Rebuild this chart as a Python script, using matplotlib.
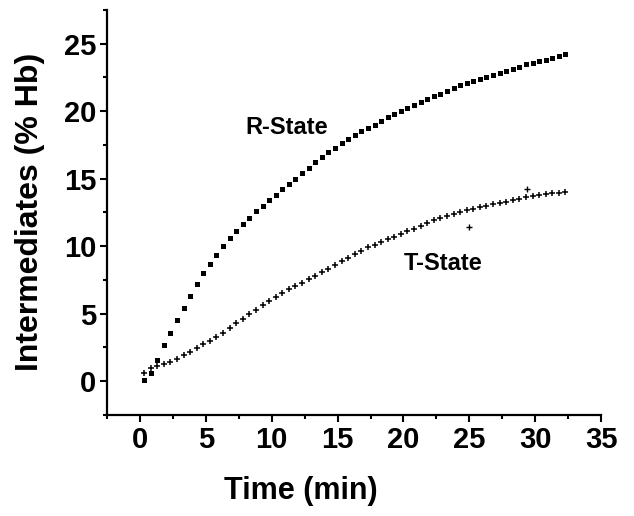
import matplotlib
matplotlib.use('agg')
import matplotlib.pyplot as plt
from matplotlib.ticker import MultipleLocator

# sampling times (min)
time = [0.3, 0.8, 1.3, 1.8, 2.3, 2.8, 3.3, 3.8, 4.3, 4.8,
        5.3, 5.8, 6.3, 6.8, 7.3, 7.8, 8.3, 8.8, 9.3, 9.8,
        10.3, 10.8, 11.3, 11.8, 12.3, 12.8, 13.3, 13.8, 14.3, 14.8,
        15.3, 15.8, 16.3, 16.8, 17.3, 17.8, 18.3, 18.8, 19.3, 19.8,
        20.3, 20.8, 21.3, 21.8, 22.3, 22.8, 23.3, 23.8, 24.3, 24.8,
        25.3, 25.8, 26.3, 26.8, 27.3, 27.8, 28.3, 28.8, 29.3, 29.8,
        30.3, 30.8, 31.3, 31.8, 32.3]

# R-state intermediates (% Hb)
r_state = [0.1, 0.6, 1.6, 2.7, 3.6, 4.5, 5.4, 6.3, 7.2, 8.0,
           8.7, 9.35, 10.0, 10.6, 11.1, 11.6, 12.05, 12.6, 13.0, 13.4,
           13.8, 14.2, 14.6, 15.0, 15.4, 15.8, 16.2, 16.6, 17.0, 17.3,
           17.6, 17.9, 18.2, 18.5, 18.75, 19.0, 19.3, 19.55, 19.8, 20.0,
           20.25, 20.45, 20.7, 20.9, 21.1, 21.3, 21.5, 21.7, 21.9, 22.05,
           22.2, 22.4, 22.55, 22.7, 22.85, 23.0, 23.15, 23.3, 23.45, 23.55,
           23.7, 23.8, 23.95, 24.05, 24.2]

# T-state intermediates (% Hb)
t_state = [0.6, 1.0, 1.1, 1.25, 1.45, 1.65, 1.9, 2.15, 2.45, 2.75,
           3.0, 3.3, 3.6, 3.95, 4.3, 4.6, 4.95, 5.3, 5.6, 5.9,
           6.2, 6.5, 6.8, 7.05, 7.3, 7.55, 7.8, 8.05, 8.3, 8.6,
           8.9, 9.15, 9.4, 9.65, 9.9, 10.1, 10.3, 10.5, 10.7, 10.9,
           11.1, 11.3, 11.5, 11.7, 11.9, 12.05, 12.2, 12.4, 12.55, 12.65,
           12.75, 12.9, 13.0, 13.1, 13.2, 13.3, 13.4, 13.5, 13.6, 13.7,
           13.75, 13.85, 13.9, 13.95, 14.0]

# stray T-state points
t_out_time = [25.0, 29.4]
t_out_val = [11.4, 14.2]

xticks = [0, 5, 10, 15, 20, 25, 30, 35]
yticks = [0, 5, 10, 15, 20, 25]

plt.rcParams['font.family'] = ['Liberation Sans', 'DejaVu Sans']
plt.rcParams['font.weight'] = 'bold'

fig = plt.figure(figsize=(6.34, 5.16), dpi=100)
ax = fig.add_axes([0.169, 0.196, 0.779, 0.785])

ax.plot(time, r_state, linestyle='none', marker='s', markersize=3.6,
        color='black', markeredgewidth=0)
ax.plot(time, t_state, linestyle='none', marker='+', markersize=4.5,
        color='black', markeredgewidth=1.1)
ax.plot(t_out_time, t_out_val, linestyle='none', marker='+', markersize=4,
        color='black', markeredgewidth=1.0)

ax.text(11.1, 18.8, "R-State", fontsize=17, fontweight='bold', ha='center', va='center')
ax.text(23.0, 8.7, "T-State", fontsize=17, fontweight='bold', ha='center', va='center')

ax.set_xlim(-2.5, 35)
ax.set_ylim(-2.5, 27.5)
ax.set_xticks(xticks)
ax.set_yticks(yticks)
ax.xaxis.set_minor_locator(MultipleLocator(2.5))
ax.yaxis.set_minor_locator(MultipleLocator(2.5))

ax.spines['top'].set_visible(False)
ax.spines['right'].set_visible(False)
ax.spines['left'].set_linewidth(1.6)
ax.spines['bottom'].set_linewidth(1.6)
ax.tick_params(which='major', direction='out', length=5, width=1.5, labelsize=21, pad=3)
ax.tick_params(which='minor', direction='out', length=3, width=1.5)

ax.set_xlabel("Time (min)", fontsize=22, fontweight='bold')
ax.set_ylabel("Intermediates (% Hb)", fontsize=23, fontweight='bold')
ax.xaxis.set_label_coords(0.393, -0.15)
ax.yaxis.set_label_coords(-0.126, 0.5)

plt.savefig("out.png", dpi=100)
